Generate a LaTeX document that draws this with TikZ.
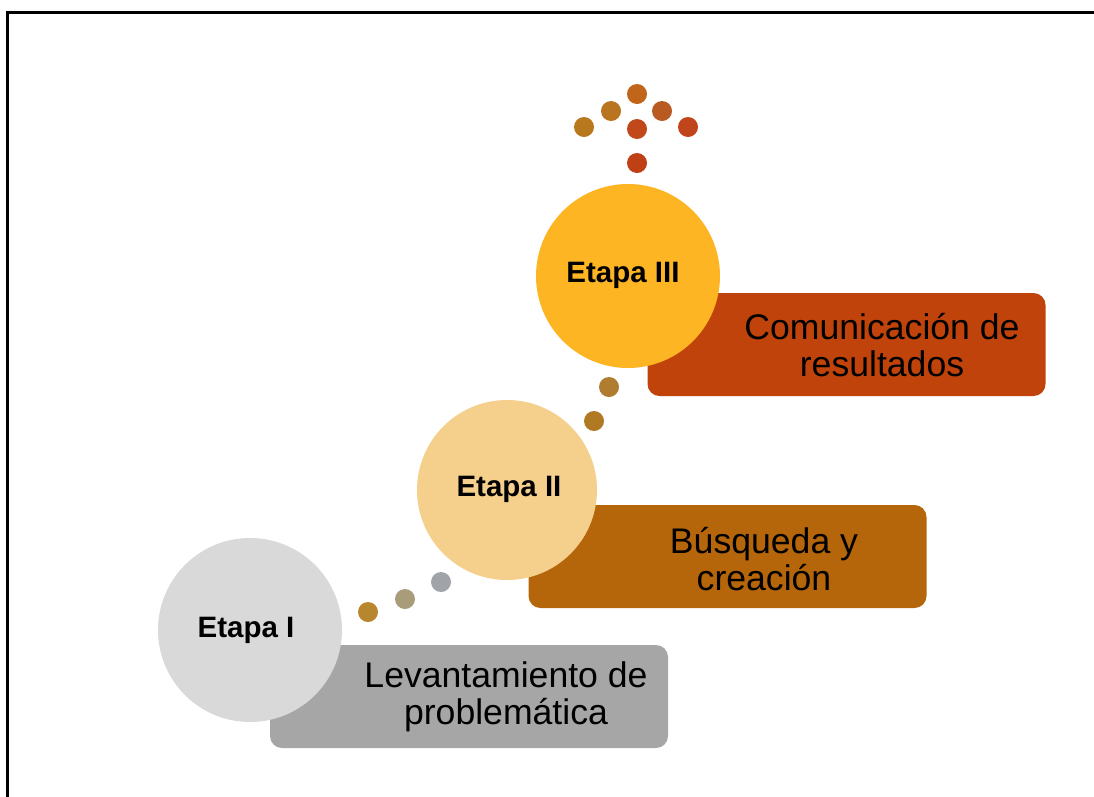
\documentclass[tikz,border=0pt]{standalone}
\usepackage{fontspec}
\setmainfont{Liberation Sans}
\definecolor{greyCirc}{HTML}{D9D9D9}
\definecolor{greyBox}{HTML}{A6A6A6}
\definecolor{sandCirc}{HTML}{F5D08C}
\definecolor{ochreBox}{HTML}{B5650A}
\definecolor{goldCirc}{HTML}{FDB524}
\definecolor{rustBox}{HTML}{BF430B}
\begin{document}
\begin{tikzpicture}[x=1pt, y=-1pt,
    box/.style={rectangle, rounded corners=12pt, minimum width=398pt, minimum height=103pt, inner sep=0pt},
    stage/.style={circle, minimum size=184pt, inner sep=0pt},
    stagetxt/.style={font=\fontsize{29.5}{31}\selectfont\bfseries},
    txt/.style={align=center, font=\fontsize{35.6}{37}\selectfont},
    dot/.style={circle, minimum size=20pt, inner sep=0pt}]
    \clip (0, 0) rectangle (1094, 796);
    \draw[line width=3pt] (7.5, 820) -- (7.5, 12.5) -- (1120, 12.5);

    % boxes
    \node[box, fill=greyBox] (boxI) at (469, 696.5) {};
    \node[box, fill=ochreBox] (boxII) at (727.5, 556.5) {};
    \node[box, fill=rustBox] (boxIII) at (846.5, 344.5) {};

    \node[txt] (txtI) at (506, 697) {Levantamiento de\\problemática};
    \node[txt] (txtII) at (764, 559) {Búsqueda y\\creación};
    \node[txt] (txtIII) at (882, 345) {Comunicación de\\resultados};

    % stages
    \node[stage, fill=greyCirc] (etI) at (250, 630) {};
    \node[stage, fill=sandCirc, minimum size=180pt] (etII) at (507, 490) {};
    \node[stage, fill=goldCirc] (etIII) at (628, 276) {};

    \node[stagetxt] (lbI) at (246, 630) {Etapa I};
    \node[stagetxt] (lbII) at (509, 489) {Etapa II};
    \node[stagetxt] (lbIII) at (623, 275) {Etapa III};

    % dots
    \node[dot, fill={rgb,255:red,184;green,134;blue,46}] (d1) at (368, 612) {};
    \node[dot, fill={rgb,255:red,168;green,156;blue,122}] (d2) at (405, 599) {};
    \node[dot, fill={rgb,255:red,160;green,164;blue,168}] (d3) at (441, 582) {};
    \node[dot, fill={rgb,255:red,176;green,122;blue,37}] (d4) at (594, 421) {};
    \node[dot, fill={rgb,255:red,176;green,124;blue,48}] (d5) at (609, 387) {};

    \node[dot, fill={rgb,255:red,192;green,101;blue,26}] (t1) at (637, 94) {};
    \node[dot, fill={rgb,255:red,184;green,116;blue,31}] (t2) at (611, 111) {};
    \node[dot, fill={rgb,255:red,184;green,90;blue,34}] (t3) at (662, 111) {};
    \node[dot, fill={rgb,255:red,184;green,120;blue,30}] (t4) at (584, 127) {};
    \node[dot, fill={rgb,255:red,192;green,72;blue,26}] (t5) at (637, 129) {};
    \node[dot, fill={rgb,255:red,192;green,69;blue,26}] (t6) at (688, 127) {};
    \node[dot, fill={rgb,255:red,192;green,64;blue,22}] (t7) at (637, 163) {};
\end{tikzpicture}
\end{document}
